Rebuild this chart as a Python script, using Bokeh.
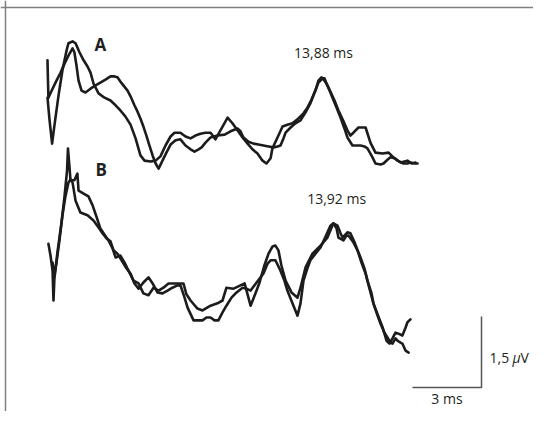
from bokeh.plotting import figure
from bokeh.models import Range1d, Span, ColumnDataSource
from bokeh.core.properties import value
from bokeh.embed import file_html
from bokeh.resources import INLINE

# ---- data: time in ms, amplitude in microvolts ----
a1_t = [0, 0.02, 0.04, 0.22, 0.39, 0.57, 0.74, 0.91, 1.09, 1.17, 1.26, 1.35, 1.48, 1.65, 1.87, 2.09, 2.30, 2.52,
        2.74, 2.91, 3.04, 3.17, 3.30, 3.48, 3.61, 3.78, 3.91, 4.04, 4.17, 4.30, 4.43, 4.57, 4.70, 4.83, 5.00, 5.17,
        5.35, 5.57, 5.78, 6.00, 6.22, 6.39, 6.57, 6.70, 6.87, 7.09, 7.39, 7.70, 7.96, 8.26, 8.39, 8.52, 8.74, 8.96,
        9.17, 9.39, 9.61, 9.83, 10.00, 10.13, 10.26, 10.35, 10.57, 10.78, 11.00, 11.22, 11.43, 11.61, 11.78, 11.96,
        12.04, 12.17, 12.30, 12.39, 12.57, 12.74, 12.91, 13.04, 13.26, 13.43, 13.61, 13.78, 13.91, 14.04, 14.13,
        14.26, 14.48, 14.61, 14.78, 14.91, 15.09, 15.22, 15.48, 15.65, 15.78, 15.96, 16.09]
a1_v = [2.18, 1.75, 1.39, 1.58, 1.75, 1.92, 2.11, 2.28, 2.43, 2.35, 2.07, 1.75, 1.54, 1.50, 1.58, 1.65, 1.71, 1.77,
        1.84, 1.84, 1.82, 1.73, 1.65, 1.54, 1.42, 1.23, 1.10, 0.95, 0.78, 0.59, 0.38, 0.17, 0.00, -0.11, 0.06, 0.23,
        0.40, 0.49, 0.51, 0.38, 0.30, 0.25, 0.30, 0.34, 0.44, 0.55, 0.59, 0.61, 0.68, 0.74, 0.68, 0.55, 0.46, 0.42,
        0.40, 0.38, 0.36, 0.34, 0.36, 0.38, 0.53, 0.65, 0.76, 0.85, 0.91, 1.08, 1.27, 1.50, 1.71, 1.80,
        1.80, 1.65, 1.50, 1.39, 1.18, 0.97, 0.74, 0.55, 0.38, 0.38, 0.38, 0.36, 0.32, 0.21, 0.13,
        0.00, -0.02, 0.00, 0.08, 0.13, 0.11, 0.06, 0.00, 0.00, 0.02, 0.00, 0.00]

a2_t = [0, 0.09, 0.20, 0.30, 0.48, 0.65, 0.83, 0.91, 1.09, 1.22, 1.39, 1.57, 1.74, 1.87, 2.00, 2.22, 2.48, 2.74,
        2.96, 3.17, 3.39, 3.61, 3.83, 4.04, 4.22, 4.48, 4.70, 4.91, 5.13, 5.35, 5.52, 5.78, 6.00, 6.22, 6.43, 6.65,
        6.87, 7.09, 7.30, 7.52, 7.83, 8.04, 8.26, 8.48, 8.70, 8.91, 9.13, 9.35, 9.52, 9.70, 9.78, 10.00, 10.22,
        10.43, 10.65, 10.91, 11.13, 11.30, 11.48, 11.65, 11.78, 11.91, 12.04, 12.17, 12.30, 12.48, 12.65, 12.87,
        13.04, 13.17, 13.30, 13.52, 13.83, 14.04, 14.26, 14.57, 14.83, 15.04, 15.35, 15.65, 15.83, 16.00]
a2_v = [1.39, 0.91, 0.42, 0.80, 1.44, 1.97, 2.39, 2.54, 2.58, 2.54, 2.35, 2.18, 2.05, 1.92, 1.69, 1.48, 1.39, 1.33,
        1.23, 1.12, 0.99, 0.82, 0.53, 0.17, 0.06, 0.04, 0.06, 0.15, 0.38, 0.57, 0.65, 0.65, 0.57, 0.53, 0.59, 0.63,
        0.65, 0.65, 0.51, 0.70, 0.97, 0.85, 0.70, 0.55, 0.42, 0.30, 0.21, 0.06, 0.00, 0.11, 0.32, 0.55, 0.78,
        0.82, 0.85, 0.95, 1.06, 1.18, 1.35, 1.54, 1.75, 1.82, 1.75, 1.65, 1.52, 1.33, 1.12, 0.89,
        0.70, 0.59, 0.65, 0.76, 0.76, 0.44, 0.23, 0.21, 0.23, 0.13, 0.02, 0.06, 0.00, 0.02]

b1_t = [0.04, 0.13, 0.22, 0.26, 0.30, 0.43, 0.61, 0.74, 0.85, 0.89, 0.96, 1.00, 1.17, 1.30, 1.35, 1.57, 1.78, 1.96,
        2.13, 2.30, 2.48, 2.65, 2.83, 2.96, 3.17, 3.35, 3.52, 3.74, 3.96, 4.17, 4.39, 4.61, 4.83, 5.04, 5.26, 5.48,
        5.70, 5.91, 6.04, 6.22, 6.52, 6.74, 7.09, 7.39, 7.61, 7.78, 8.09, 8.39, 8.57, 8.83, 9.04, 9.22, 9.43, 9.61,
        9.78, 9.91, 10.04, 10.17, 10.35, 10.61, 10.87, 11.00, 11.22, 11.52, 11.87, 12.17, 12.43, 12.61, 12.74,
        12.83, 13.04, 13.17, 13.35, 13.48, 13.65, 13.83, 14.00, 14.17, 14.39, 14.57, 14.74, 14.87, 15.00, 15.13,
        15.26, 15.43, 15.57, 15.65, 15.78]
b1_v = [1.20, 0.95, 0.63, 0.00, 0.46, 1.01, 1.65, 2.20, 2.75, 3.21, 2.79, 2.54, 2.54, 2.68, 2.32, 2.26, 2.20, 2.01,
        1.77, 1.52, 1.39, 1.27, 1.10, 0.91, 0.95, 0.80, 0.63, 0.42, 0.36, 0.15, 0.11, 0.27, 0.21, 0.27, 0.36, 0.36,
        0.36, 0.36, 0.13, 0.00, -0.17, -0.21, -0.11, -0.06, 0.00, 0.27, 0.25, 0.32, 0.36, -0.11, 0.15, 0.38, 0.74,
        0.99, 1.14, 1.16, 1.06, 0.74, 0.42, 0.17, 0.06, 0.27, 0.70, 0.99, 1.16, 1.33, 1.63, 1.58, 1.42,
        1.33, 1.44, 1.42, 1.23, 1.06, 0.80, 0.57, 0.25, -0.06, -0.34, -0.57, -0.85, -0.91, -0.80, -0.68,
        -0.70, -0.74, -0.57, -0.46, -0.40]

b2_t = [0.22, 0.30, 0.39, 0.52, 0.65, 0.78, 0.91, 1.00, 1.09, 1.22, 1.43, 1.74, 2.00, 2.22, 2.39, 2.57, 2.74, 2.87,
        3.04, 3.22, 3.43, 3.61, 3.78, 3.96, 4.17, 4.39, 4.57, 4.78, 5.00, 5.22, 5.43, 5.65, 5.78, 5.96, 6.09, 6.35,
        6.57, 6.74, 6.91, 7.09, 7.26, 7.43, 7.61, 7.78, 8.00, 8.22, 8.48, 8.65, 8.83, 9.09, 9.39, 9.57, 9.70, 9.91,
        10.13, 10.30, 10.43, 10.65, 10.87, 11.00, 11.13, 11.30, 11.43, 11.65, 11.87, 12.09, 12.30, 12.43, 12.57,
        12.65, 12.87, 13.00, 13.09, 13.30, 13.48, 13.61, 13.78, 13.91, 14.09, 14.17, 14.35, 14.48, 14.65, 14.78,
        14.91, 15.00, 15.13, 15.22, 15.35, 15.43, 15.57, 15.70]
b2_v = [0.80, 0.53, 0.80, 1.27, 1.80, 2.20, 2.49, 2.56, 2.49, 2.11, 1.86, 1.80, 1.69, 1.54, 1.42, 1.31, 1.25, 1.06,
        0.99, 0.85, 0.68, 0.57, 0.36, 0.25, 0.38, 0.49, 0.36, 0.17, 0.15, 0.21, 0.27, 0.32, 0.32, 0.06, -0.15, -0.42,
        -0.42, -0.42, -0.36, -0.36, -0.42, -0.42, -0.25, -0.11, 0.06, 0.17, 0.27, 0.25, 0.21, 0.38, 0.57, 0.78, 0.85,
        0.85, 0.63, 0.42, 0.21, -0.06, -0.32, -0.06, 0.42, 0.68, 0.85, 0.99, 1.12, 1.35, 1.58, 1.63, 1.52,
        1.33, 1.27, 1.37, 1.37, 1.23, 1.06, 0.91, 0.68, 0.42, 0.15, -0.06, -0.32, -0.49, -0.68, -0.78,
        -0.89, -0.91, -0.80, -0.85, -0.89, -0.91, -1.06, -1.10]

group_labels = ["A", "B"]
latency_labels = ["13,88 ms", "13,92 ms"]
scale_time_ms = 3.0
scale_amp_uv = 1.5

# ---- layout constants ----
PX_PER_MS = 23.0
PX_PER_UV = 47.33
W, H = 533, 411
x0 = -47 / PX_PER_MS
y1 = 300 / PX_PER_UV
offset_a = 2.895
offset_b = 0.0

p = figure(width=W, height=H, output_backend="svg", toolbar_location=None,
           x_range=Range1d(x0, x0 + W / PX_PER_MS), y_range=Range1d(y1 - H / PX_PER_UV, y1),
           x_axis_location=None, y_axis_location=None, min_border=0,
           background_fill_color="white", border_fill_color="white")
p.grid.visible = False
p.outline_line_color = None

ink = "#1c1c1c"
for t, v, off in [(a1_t, a1_v, offset_a), (a2_t, a2_v, offset_a),
                  (b1_t, b1_v, offset_b), (b2_t, b2_v, offset_b)]:
    src = ColumnDataSource(dict(t=t, y=[vv + off for vv in v]))
    p.line("t", "y", source=src, line_color=ink, line_width=2.6,
           line_join="round", line_cap="round")

# frame (left and top edges visible in the reference)
p.add_layout(Span(location=x0 + 5 / PX_PER_MS, dimension="height", line_color="#808080", line_width=1.5))
p.add_layout(Span(location=y1 - 7 / PX_PER_UV, dimension="width", line_color="#808080", line_width=1.5))

# group letters
p.text(x=[2.30, 2.33], y=[5.408, 2.778], text=group_labels, text_font=value("Open Sans"),
       text_font_style="bold", text_font_size="17px", text_color="#231f20",
       text_align="center", text_baseline="middle")

# latency labels
p.text(x=[12.0, 12.57], y=[5.239, 2.165], text=latency_labels, text_font=value("Open Sans"),
       text_font_size="14px", text_color="#231f20", text_align="center", text_baseline="middle")

# scale bar
cx, cy = 18.87, -1.84
p.line([cx - scale_time_ms, cx, cx], [cy, cy, cy + scale_amp_uv], line_color="#555555", line_width=1.5)
p.text(x=[cx - scale_time_ms / 2], y=[-2.071], text=[f"{scale_time_ms:g} ms"], text_font=value("Open Sans"),
       text_font_size="14px", text_color="#231f20", text_align="center", text_baseline="middle")
lx, ly = 19.22, -1.205
p.text(x=[lx], y=[ly], text=["1,5"], text_font=value("Open Sans"), text_font_size="14px",
       text_color="#231f20", text_align="left", text_baseline="middle")
p.text(x=[lx], y=[ly], text=["\u00b5"], x_offset=23, text_font=value("Open Sans"), text_font_size="14px",
       text_font_style="italic", text_color="#231f20", text_align="left", text_baseline="middle")
p.text(x=[lx], y=[ly], text=["V"], x_offset=31, text_font=value("Open Sans"), text_font_size="14px",
       text_color="#231f20", text_align="left", text_baseline="middle")

open("out.html", "w").write(file_html(p, INLINE))
